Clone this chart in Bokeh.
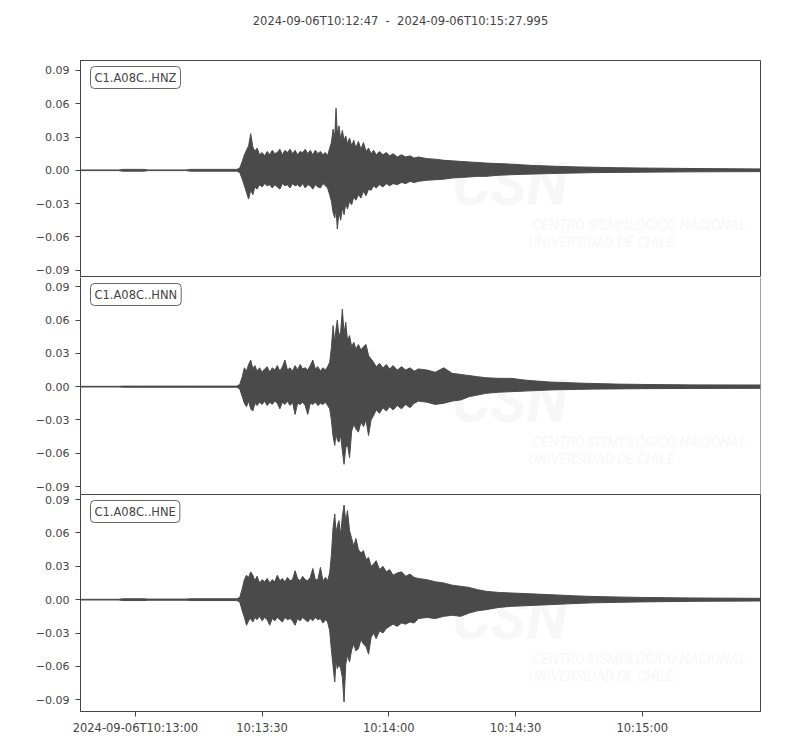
from bokeh.plotting import figure
from bokeh.layouts import column
from bokeh.models import Range1d, FixedTicker, Label, ColumnDataSource, Span
from bokeh.embed import file_html
from bokeh.resources import INLINE

TRACE = "#4a4a4a"
INK = "#444444"
MARK = "#f7f7f7"

title_text = "2024-09-06T10:12:47\u00a0\u00a0-\u00a0\u00a02024-09-06T10:15:27.995"
t_end = 160.995  # seconds after 10:12:47

x_ticks = [13, 43, 73, 103, 133]
x_labels = ["2024-09-06T10:13:00", "10:13:30", "10:14:00", "10:14:30", "10:15:00"]
y_ticks = [-0.09, -0.06, -0.03, 0.0, 0.03, 0.06, 0.09]
y_labels = ["\u22120.09", "\u22120.06", "\u22120.03", "0.00", "0.03", "0.06", "0.09"]

channels = ["C1.A08C..HNZ", "C1.A08C..HNN", "C1.A08C..HNE"]
y_lims = [(-0.0967, 0.0990), (-0.0972, 0.0984), (-0.1005, 0.0945)]

# envelope knots (s after start)
t = [0, 9, 10, 15, 16, 25, 26, 37.0, 37.7, 38.3,
     38.8, 39.3, 39.8, 40.3, 40.8, 41.3, 41.8, 42.4, 43.0, 43.6,
     44.2, 44.8, 45.4, 46.0, 46.6, 47.2, 47.8, 48.4, 49.0, 49.6,
     50.2, 50.8, 51.4, 52.0, 52.6, 53.2, 53.8, 54.4, 55.0, 55.6,
     56.2, 56.8, 57.4, 58.0, 58.5, 59.0, 59.4, 59.8, 60.2, 60.5,
     60.8, 61.2, 61.6, 62.0, 62.4, 62.8, 63.2, 63.7, 64.2, 64.7,
     65.2, 65.8, 66.4, 67.0, 67.6, 68.2, 68.8, 69.4, 70.0, 70.8,
     71.6, 72.4, 73.2, 74.0, 75.0, 76.0, 77.0, 78.0, 79.0, 80.0,
     82, 84, 86, 88, 90, 92, 94, 96, 99, 102,
     105, 108, 111, 114, 118, 122, 127, 133, 145, 160.995]

hnz_up = [0.0003, 0.0003, 0.0008, 0.0008, 0.0003, 0.0003, 0.0008, 0.0008, 0.002, 0.008,
          0.014, 0.018, 0.022, 0.033, 0.021, 0.017, 0.020, 0.014, 0.016, 0.013,
          0.017, 0.014, 0.018, 0.015, 0.016, 0.019, 0.014, 0.018, 0.016, 0.019,
          0.015, 0.018, 0.014, 0.017, 0.016, 0.019, 0.015, 0.018, 0.014, 0.018,
          0.015, 0.017, 0.014, 0.016, 0.013, 0.020, 0.025, 0.037, 0.030, 0.056,
          0.033, 0.040, 0.028, 0.036, 0.027, 0.031, 0.024, 0.029, 0.022, 0.027,
          0.020, 0.026, 0.019, 0.025, 0.017, 0.020, 0.015, 0.018, 0.014, 0.017,
          0.014, 0.016, 0.013, 0.015, 0.012, 0.014, 0.012, 0.013, 0.011, 0.012,
          0.0105, 0.010, 0.009, 0.0085, 0.008, 0.0075, 0.007, 0.0065, 0.006, 0.0055,
          0.0048, 0.0042, 0.0038, 0.0034, 0.003, 0.0027, 0.0023, 0.002, 0.0016, 0.0012]
hnz_lo = [-0.0003, -0.0003, -0.0008, -0.0008, -0.0003, -0.0003, -0.0008, -0.0008, -0.002, -0.008,
          -0.014, -0.020, -0.026, -0.018, -0.022, -0.015, -0.017, -0.013, -0.015, -0.012,
          -0.014, -0.013, -0.016, -0.013, -0.015, -0.017, -0.012, -0.014, -0.013, -0.016,
          -0.012, -0.014, -0.013, -0.015, -0.012, -0.016, -0.013, -0.014, -0.017, -0.013,
          -0.015, -0.016, -0.012, -0.014, -0.016, -0.022, -0.028, -0.038, -0.043, -0.034,
          -0.053, -0.038, -0.045, -0.034, -0.040, -0.030, -0.035, -0.028, -0.031, -0.024,
          -0.027, -0.022, -0.025, -0.019, -0.023, -0.017, -0.018, -0.014, -0.016, -0.013,
          -0.015, -0.012, -0.014, -0.012, -0.013, -0.011, -0.012, -0.010, -0.011, -0.010,
          -0.009, -0.0085, -0.008, -0.007, -0.0065, -0.006, -0.0055, -0.0055, -0.0045, -0.004,
          -0.0036, -0.0033, -0.003, -0.0027, -0.0024, -0.0021, -0.0019, -0.0017, -0.0014, -0.0012]

hnn_up = [0.0003, 0.0003, 0.0005, 0.0005, 0.0005, 0.0005, 0.0005, 0.0005, 0.002, 0.009,
          0.017, 0.014, 0.020, 0.024, 0.016, 0.019, 0.014, 0.017, 0.013, 0.016,
          0.018, 0.013, 0.017, 0.015, 0.019, 0.014, 0.018, 0.024, 0.015, 0.017,
          0.014, 0.019, 0.015, 0.020, 0.016, 0.017, 0.015, 0.019, 0.024, 0.016,
          0.018, 0.014, 0.017, 0.015, 0.018, 0.022, 0.035, 0.055, 0.040, 0.052,
          0.060, 0.045, 0.050, 0.070, 0.048, 0.058, 0.042, 0.046, 0.036, 0.040,
          0.034, 0.038, 0.033, 0.036, 0.038, 0.028, 0.025, 0.022, 0.018, 0.021,
          0.017, 0.020, 0.016, 0.019, 0.015, 0.018, 0.015, 0.017, 0.014, 0.016,
          0.015, 0.013, 0.017, 0.012, 0.011, 0.010, 0.009, 0.008, 0.0075, 0.0075,
          0.006, 0.005, 0.0042, 0.0038, 0.0032, 0.0028, 0.0023, 0.002, 0.0016, 0.0015]
hnn_lo = [-0.0003, -0.0003, -0.0005, -0.0005, -0.0005, -0.0005, -0.0005, -0.0005, -0.002, -0.009,
          -0.015, -0.018, -0.013, -0.020, -0.022, -0.015, -0.017, -0.014, -0.016, -0.013,
          -0.017, -0.014, -0.016, -0.013, -0.015, -0.020, -0.014, -0.016, -0.013, -0.017,
          -0.014, -0.025, -0.015, -0.016, -0.014, -0.017, -0.025, -0.015, -0.016, -0.014,
          -0.017, -0.015, -0.016, -0.014, -0.017, -0.020, -0.030, -0.045, -0.053, -0.042,
          -0.048, -0.050, -0.044, -0.058, -0.070, -0.055, -0.052, -0.064, -0.040, -0.034,
          -0.038, -0.041, -0.032, -0.036, -0.030, -0.044, -0.030, -0.026, -0.021, -0.024,
          -0.019, -0.022, -0.018, -0.021, -0.017, -0.020, -0.016, -0.019, -0.015, -0.013,
          -0.014, -0.016, -0.015, -0.013, -0.012, -0.009, -0.0075, -0.006, -0.005, -0.0045,
          -0.004, -0.0035, -0.003, -0.0027, -0.0024, -0.0022, -0.002, -0.0018, -0.0016, -0.0015]

hne_up = [0.0003, 0.0003, 0.0008, 0.0008, 0.0005, 0.0005, 0.0008, 0.0008, 0.002, 0.010,
          0.018, 0.022, 0.020, 0.025, 0.022, 0.017, 0.021, 0.015, 0.018, 0.016,
          0.019, 0.015, 0.018, 0.016, 0.022, 0.017, 0.019, 0.016, 0.020, 0.017,
          0.018, 0.026, 0.019, 0.017, 0.021, 0.018, 0.017, 0.020, 0.028, 0.018,
          0.018, 0.029, 0.017, 0.020, 0.017, 0.024, 0.040, 0.065, 0.077, 0.060,
          0.066, 0.071, 0.058, 0.075, 0.085, 0.070, 0.080, 0.062, 0.055, 0.048,
          0.055, 0.045, 0.042, 0.044, 0.036, 0.038, 0.030, 0.032, 0.035, 0.027,
          0.030, 0.025, 0.027, 0.022, 0.024, 0.025, 0.021, 0.023, 0.020, 0.019,
          0.018, 0.016, 0.015, 0.013, 0.012, 0.011, 0.009, 0.0075, 0.0065, 0.006,
          0.0055, 0.005, 0.0045, 0.004, 0.0033, 0.0028, 0.0024, 0.002, 0.0015, 0.0012]
hne_lo = [-0.0003, -0.0003, -0.0008, -0.0008, -0.0005, -0.0005, -0.0008, -0.0008, -0.002, -0.010,
          -0.016, -0.023, -0.019, -0.017, -0.020, -0.016, -0.018, -0.015, -0.019, -0.016,
          -0.018, -0.023, -0.017, -0.019, -0.016, -0.018, -0.020, -0.016, -0.018, -0.017,
          -0.019, -0.023, -0.017, -0.019, -0.016, -0.018, -0.020, -0.017, -0.019, -0.016,
          -0.018, -0.017, -0.021, -0.018, -0.020, -0.028, -0.045, -0.060, -0.074, -0.055,
          -0.062, -0.058, -0.062, -0.070, -0.092, -0.058, -0.050, -0.056, -0.045, -0.040,
          -0.046, -0.044, -0.036, -0.040, -0.042, -0.049, -0.034, -0.030, -0.035, -0.028,
          -0.030, -0.026, -0.024, -0.022, -0.024, -0.021, -0.022, -0.020, -0.021, -0.017,
          -0.016, -0.017, -0.015, -0.014, -0.015, -0.012, -0.010, -0.009, -0.007, -0.006,
          -0.0055, -0.005, -0.0045, -0.004, -0.0033, -0.0028, -0.0024, -0.002, -0.0015, -0.0012]

uppers = [hnz_up, hnn_up, hne_up]
lowers = [hnz_lo, hnn_lo, hne_lo]

PAGE_W = 792
FRAME_W, FRAME_H = 680, 217
LEFT = 80

# header strip holding the time-span title (column aligns its frame with the panels)
head = figure(width=PAGE_W, height=60, output_backend="svg", toolbar_location=None,
              x_axis_location=None, y_axis_location=None, min_border=0)
head.outline_line_color = None
head.xgrid.visible = False
head.ygrid.visible = False
head.add_layout(Label(x=400 - LEFT, y=40, x_units="screen", y_units="screen",
                      text=title_text, text_align="center", text_baseline="middle",
                      text_font="DejaVu Sans", text_font_size="11.5px", text_color=INK))

x_range = Range1d(0, t_end)
panels = [head]
for i, (name, lim, up, lo) in enumerate(zip(channels, y_lims, uppers, lowers)):
    last = i == len(channels) - 1
    p = figure(frame_width=FRAME_W, frame_height=FRAME_H, x_range=x_range, y_range=Range1d(*lim),
               output_backend="svg", toolbar_location=None,
               x_axis_location="below" if last else None,
               min_border_left=LEFT, min_border_right=32,
               min_border_top=0, min_border_bottom=30 if last else 0)
    p.background_fill_color = "white"
    p.border_fill_color = "white"
    p.xgrid.visible = False
    p.ygrid.visible = False
    if i != 1:
        p.outline_line_color = INK
        p.outline_line_width = 1
    else:
        # middle panel: neighbours draw the shared top/bottom edges
        p.outline_line_color = None
        p.add_layout(Span(location=t_end, dimension="height", line_color=INK, line_width=1))

    p.yaxis.ticker = FixedTicker(ticks=y_ticks)
    p.yaxis.major_label_overrides = dict(zip(y_ticks, y_labels))
    p.yaxis.minor_tick_line_color = None
    p.yaxis.major_tick_in = 0
    p.yaxis.major_tick_out = 5
    p.yaxis.axis_line_color = INK
    p.yaxis.major_tick_line_color = INK
    p.yaxis.major_label_text_font = "DejaVu Sans"
    p.yaxis.major_label_text_font_size = "11px"
    p.yaxis.major_label_text_color = INK
    p.yaxis.major_label_standoff = 6

    if last:
        p.xaxis.ticker = FixedTicker(ticks=x_ticks)
        p.xaxis.major_label_overrides = dict(zip(x_ticks, x_labels))
        p.xaxis.minor_tick_line_color = None
        p.xaxis.major_tick_in = 0
        p.xaxis.major_tick_out = 5
        p.xaxis.axis_line_color = INK
        p.xaxis.major_tick_line_color = INK
        p.xaxis.major_label_text_font = "DejaVu Sans"
        p.xaxis.major_label_text_font_size = "11.5px"
        p.xaxis.major_label_text_color = INK
        p.xaxis.major_label_standoff = 4

    # faint CSN watermark behind each trace
    p.add_layout(Label(x=372, y=58, x_units="screen", y_units="screen", text="CSN",
                       text_font="Roboto", text_font_style="bold italic",
                       text_font_size="60px", text_color=MARK, level="underlay"))
    p.add_layout(Label(x=452, y=45, x_units="screen", y_units="screen",
                       text="CENTRO SISMOLÓGICO NACIONAL", text_font="Roboto",
                       text_font_style="italic", text_font_size="14px",
                       text_color=MARK, level="underlay"))
    p.add_layout(Label(x=448, y=28, x_units="screen", y_units="screen",
                       text="UNIVERSIDAD DE CHILE", text_font="Roboto",
                       text_font_style="italic", text_font_size="14px",
                       text_color=MARK, level="underlay"))

    src = ColumnDataSource(data=dict(t=t, up=up, lo=lo))
    p.varea(x="t", y1="lo", y2="up", source=src, fill_color=TRACE)
    p.line("t", "up", source=src, line_color=TRACE, line_width=1)
    p.line("t", "lo", source=src, line_color=TRACE, line_width=1)

    p.add_layout(Label(x=10, y=FRAME_H - 6, x_units="screen", y_units="screen", text=name,
                       anchor="top_left", text_font="DejaVu Sans", text_font_size="11.5px",
                       text_color=INK, background_fill_color="white",
                       border_line_color="#666666", border_line_width=1,
                       padding=4, border_radius=4))
    panels.append(p)

layout = column(*panels, spacing=0)
open("out.html", "w").write(file_html(layout, INLINE))
